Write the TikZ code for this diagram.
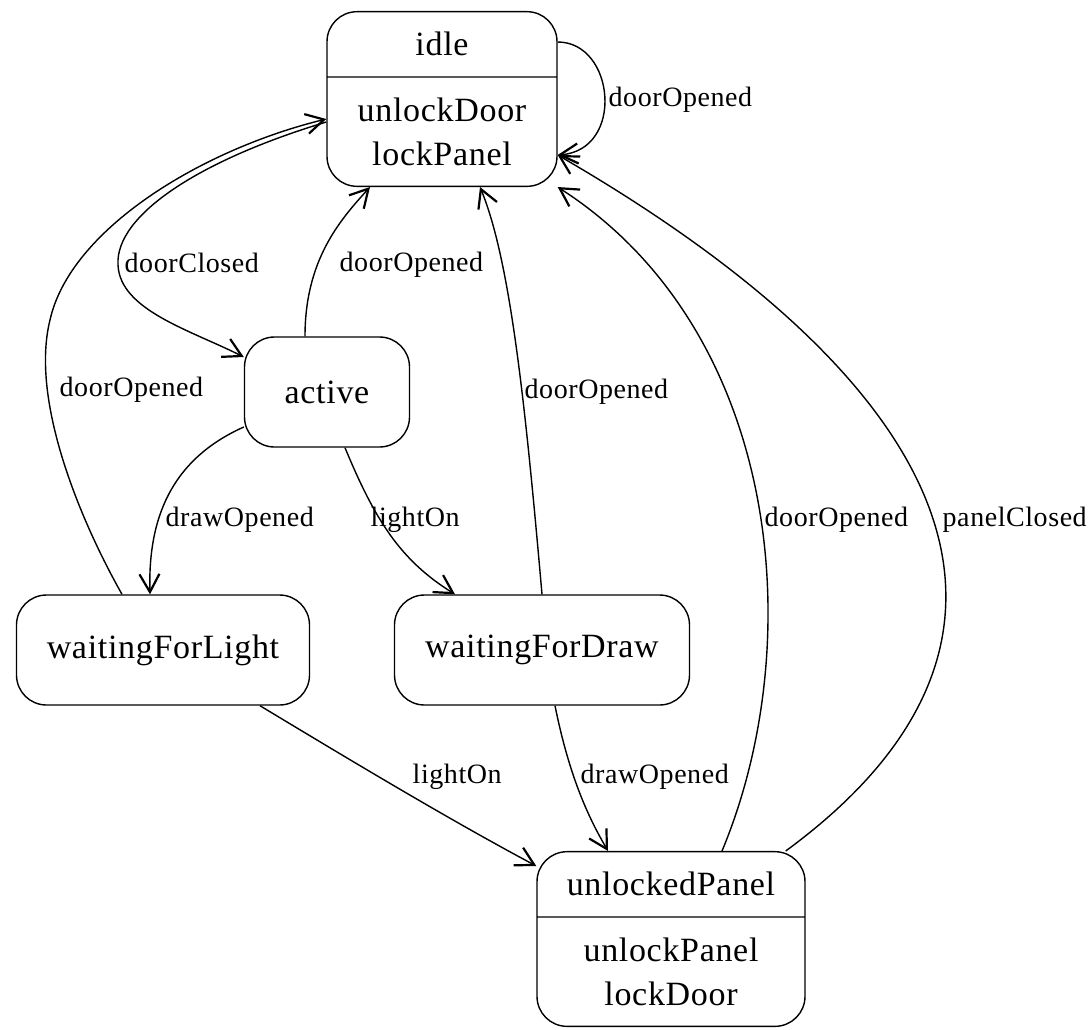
\documentclass[tikz,border=0pt]{standalone}
\usepackage{fontspec}
\setmainfont{Liberation Serif}[LetterSpace=2]
\usetikzlibrary{arrows.meta,shapes.multipart,calc}

\begin{document}
\begin{tikzpicture}[
    x=0.5pt, y=-0.5pt,
    line width=0.7pt,
    >={Straight Barb[length=9pt,width=10pt,line width=1.1pt]},
    state/.style={draw, rounded corners=15pt, minimum height=55pt, font=\fontsize{17}{22}\selectfont},
    statesplit/.style={draw, rounded corners=15pt, rectangle split, rectangle split parts=2,
        text width=#1, align=center, inner xsep=5pt, inner ysep=10pt, font=\fontsize{17}{22}\selectfont},
    lbl/.style={anchor=west, inner sep=1pt, font=\fontsize{14}{17}\selectfont},
    trans/.style={->}
]
\useasboundingbox (0,0) rectangle (1092,1029);

\node [statesplit=105pt] (idle) at (442,99) {idle \nodepart{two} unlockDoor\\lockPanel};
\node [state, minimum width=82.5pt] (active) at (327,392) {active};
\node [state, minimum width=146.5pt] (wfl) at (163,650) {waitingForLight};
\node [state, minimum width=147.5pt] (wfd) at (542,650) {waitingForDraw};
\node [statesplit=124pt] (up) at (671,939) {unlockedPanel \nodepart{two} unlockPanel\\lockDoor};

\draw [trans] ($(idle.east)+(0,-57)$) .. controls (615,42) and (625,150) .. ($(idle.east)+(0,56)$);
\node [lbl] (lSelf) at (606,100) {doorOpened};

\draw [trans] ($(idle.west)+(0,23)$) .. controls (200,160) and (115,215) .. (118,265)
    .. controls (120,310) and (190,330) .. ($(active.west)+(0,-35)$);
\node [lbl] (lClosed) at (122,263) {doorClosed};

\draw [trans] ($(wfl.north)+(-41,0)$) .. controls (80,520) and (30,400) .. (50,320)
    .. controls (70,230) and (200,150) .. ($(idle.west)+(0,20)$);
\node [lbl] (lWflIdle) at (57,390) {doorOpened};

\draw [trans] ($(active.north)+(-22,0)$) .. controls (305,260) and (340,220) .. ($(idle.south)+(-72,0)$);
\node [lbl] (lActIdle) at (337,265) {doorOpened};

\draw [trans] (wfd.north) .. controls (525,400) and (510,260) .. ($(idle.south)+(38,0)$);
\node [lbl] (lWfdIdle) at (522,392) {doorOpened};

\draw [trans] ($(active.west)+(0,35)$) .. controls (170,460) and (148,520) .. ($(wfl.north)+(-13,0)$);
\node [lbl] (lActWfl) at (163,520) {drawOpened};

\draw [trans] ($(active.south)+(18,0)$) .. controls (375,520) and (400,560) .. ($(wfd.north)+(-87,0)$);
\node [lbl] (lActWfd) at (368,520) {lightOn};

\draw [trans] ($(wfl.south)+(97,0)$) .. controls (350,760) and (450,820) .. ($(up.west)+(0,-73)$);
\node [lbl] (lWflUp) at (410,777) {lightOn};

\draw [trans] ($(wfd.south)+(13,0)$) .. controls (570,780) and (590,820) .. ($(up.north)+(-63,0)$);
\node [lbl] (lWfdUp) at (578,777) {drawOpened};

\draw [trans] ($(up.north)+(51,0)$) .. controls (810,640) and (780,330) .. (idle.south east);
\node [lbl] (lUpIdle) at (762,520) {doorOpened};

\draw [trans] ($(up.north east)+(-20,0)$) .. controls (1060,650) and (980,400) .. ($(idle.east)+(0,56)$);
\node [lbl] (lPanel) at (940,520) {panelClosed};
\end{tikzpicture}
\end{document}
